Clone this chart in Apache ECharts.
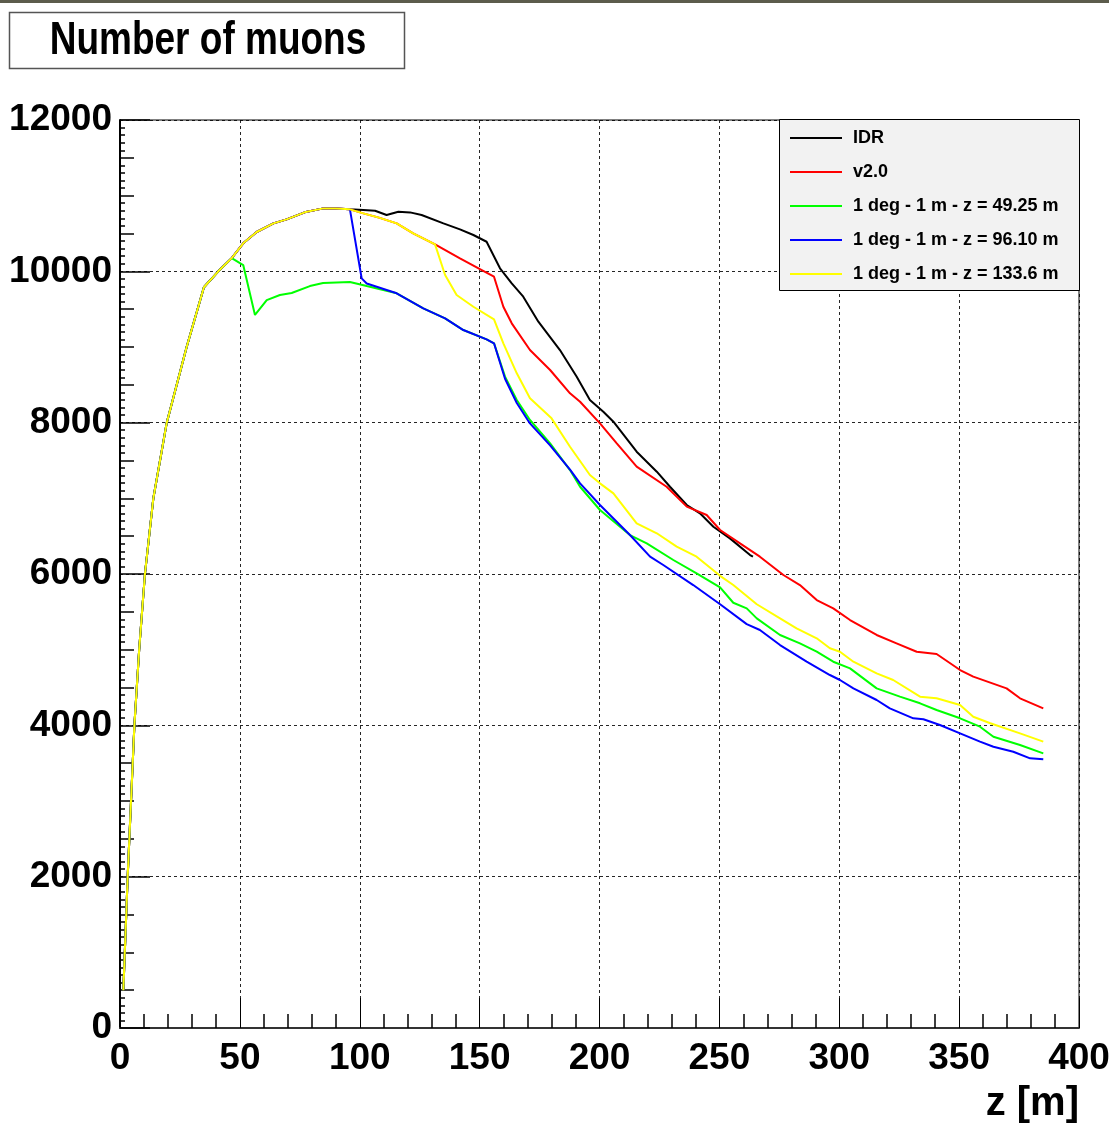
<!DOCTYPE html>
<html>
<head>
<meta charset="UTF-8">
<title>Number of muons</title>
<script src="https://cdn.jsdelivr.net/npm/echarts@6/dist/echarts.min.js"></script>
<style>
  html, body { margin: 0; padding: 0; background: #fff; }
  #main { width: 1109px; height: 1131px; }
</style>
</head>
<body>
<div id="main"></div>
<script>
var FONT = "'Liberation Sans', Arial, sans-serif";

// common rising part (all curves)
var commonZ = [1.4, 3.2, 6, 8, 10.4, 13.9, 19.5, 27.8, 35, 41, 46.6];
var commonN = [500, 2000, 4000, 5000, 6000, 7000, 8000, 9000, 9790, 10000, 10175];

// shared between IDR, v2.0, blue and yellow up to z ~ 96 m
var peakZ = [51.4, 57, 64, 69.5, 77, 84.8, 90, 95.9];
var peakN = [10370, 10520, 10634, 10687, 10780, 10832, 10830, 10819];

// IDR
var idrZ = [101.5, 106.4, 111.2, 116.1, 121, 125.8, 134.9, 141.8, 147.4, 152.9, 158.5, 163.4, 168.2, 174.5, 183.5, 190.5, 196, 201.6, 205.8, 215.5, 223.9, 229.4, 236.4, 241.9, 247.5, 254.4, 262.8, 264];
var idrN = [10810, 10801, 10744, 10788, 10779, 10744, 10634, 10555, 10480, 10391, 10040, 9842, 9665, 9334, 8960, 8607, 8300, 8145, 8013, 7616, 7352, 7153, 6912, 6802, 6625, 6471, 6251, 6230];

// v2.0 (yellow shares it up to z ~ 131 m)
var v2HeadZ = [101.5, 108, 115.4, 122.3, 131.4];
var v2HeadN = [10766, 10710, 10634, 10502, 10357];
var v2Z = [141.8, 150.9, 156, 159.9, 163.4, 171, 179.4, 187.7, 191.9, 200.2, 207.2, 215.5, 228, 236.4, 244.7, 250.3, 258.6, 266.9, 276.7, 283.6, 290.6, 297.5, 304.5, 315.6, 323.9, 332.3, 340.6, 350.4, 355.9, 369.8, 375.4, 385.1];
var v2N = [10172, 10017, 9929, 9532, 9313, 8960, 8696, 8388, 8277, 7991, 7727, 7418, 7153, 6890, 6780, 6581, 6405, 6229, 5987, 5854, 5656, 5546, 5392, 5194, 5084, 4973, 4943, 4731, 4643, 4489, 4357, 4225];

// 1 deg - 1 m - z = 49.25 m
var g49Z = [51.4, 56.3, 61.2, 66.7, 71.6, 79.2, 84.7, 95.9, 102.9, 115.4, 126.5, 135.6, 143.2, 152.9, 156, 160.6, 165.5, 171, 179.4, 187.7, 191.9, 200.2, 212.7, 219.7, 230.8, 240.5, 250.3, 255.8, 261.4, 265.6, 275.3, 283.6, 290.6, 297.5, 304.5, 315.6, 325.3, 333.7, 340.6, 350.4, 358.7, 364.3, 375.4, 385.1];
var g49N = [10083, 9423, 9620, 9687, 9713, 9805, 9845, 9860, 9805, 9710, 9511, 9379, 9224, 9101, 9049, 8608, 8300, 8035, 7727, 7374, 7153, 6846, 6515, 6405, 6185, 6009, 5822, 5620, 5546, 5414, 5194, 5084, 4973, 4841, 4753, 4489, 4379, 4291, 4202, 4093, 3982, 3850, 3740, 3630];

// 1 deg - 1 m - z = 96.10 m
var b96Z = [100.8, 102.9, 115.4, 126.5, 135.6, 143.2, 152.9, 156, 160.6, 165.5, 171, 179.4, 187.7, 191.9, 200.2, 212.7, 221.1, 226.6, 239.1, 250.3, 261.4, 266.9, 275.3, 286.4, 296.1, 300.3, 305.9, 315.6, 321.1, 330.9, 335.1, 342, 350.4, 358.7, 364.3, 372.6, 379.6, 385.1];
var b96N = [9907, 9840, 9710, 9511, 9379, 9224, 9101, 9049, 8580, 8260, 7990, 7700, 7380, 7198, 6912, 6515, 6229, 6119, 5854, 5600, 5337, 5260, 5061, 4841, 4665, 4599, 4489, 4335, 4225, 4093, 4080, 4004, 3894, 3784, 3717, 3651, 3564, 3551];

// 1 deg - 1 m - z = 133.6 m
var y133Z = [135.6, 140.4, 147.4, 156, 159.9, 165.5, 171, 180, 187.7, 196, 200.2, 205.8, 215.5, 223.9, 232.2, 240.5, 250.3, 255.8, 265.6, 275.3, 282.2, 290.6, 296.1, 300.3, 305.9, 315.6, 322.5, 333.7, 340.6, 350.4, 355.9, 363, 375.4, 385.1];
var y133N = [9951, 9687, 9532, 9366, 9049, 8652, 8322, 8057, 7682, 7308, 7198, 7066, 6670, 6538, 6361, 6229, 5976, 5854, 5600, 5414, 5282, 5150, 5018, 4973, 4841, 4687, 4599, 4379, 4357, 4269, 4114, 4027, 3894, 3784];

var legendNames = ['IDR', 'v2.0', '1 deg - 1 m - z = 49.25 m', '1 deg - 1 m - z = 96.10 m', '1 deg - 1 m - z = 133.6 m'];
var colors = ['#000000', '#ff0000', '#00ff00', '#0000ff', '#ffff00'];

function pairs() {
  var res = [];
  for (var a = 0; a < arguments.length; a += 2) {
    var zs = arguments[a], ns = arguments[a + 1];
    for (var i = 0; i < zs.length; i++) res.push([zs[i], ns[i]]);
  }
  return res;
}

var seriesData = [
  pairs(commonZ, commonN, peakZ, peakN, idrZ, idrN),
  pairs(commonZ, commonN, peakZ, peakN, v2HeadZ, v2HeadN, v2Z, v2N),
  pairs(commonZ, commonN, g49Z, g49N),
  pairs(commonZ, commonN, peakZ, peakN, b96Z, b96N),
  pairs(commonZ, commonN, peakZ, peakN, v2HeadZ, v2HeadN, y133Z, y133N)
];

var myChart = echarts.init(document.getElementById('main'));

var gridLine = { show: true, lineStyle: { color: '#000', width: 1, type: [3, 3], opacity: 0.85 } };
var labelStyle = { color: '#000', fontFamily: FONT, fontWeight: 'bold', fontSize: 37,
  formatter: function (v) { return String(v); } };

var option = {
  backgroundColor: '#fff',
  animation: false,
  color: colors,
  graphic: [
    { type: 'rect', shape: { x: 0, y: 0, width: 1109, height: 3 }, style: { fill: '#5c5c4c' } },
    { type: 'rect', shape: { x: 9.5, y: 12.5, width: 395, height: 56 }, style: { fill: '#fff', stroke: '#555', lineWidth: 1.5 } },
    { type: 'text', x: 208, y: 41, scaleY: 1.25, style: { text: 'Number of muons', fill: '#000', font: 'bold 37px ' + FONT, textAlign: 'center', textVerticalAlign: 'middle' } },
    { type: 'rect', z: 5, shape: { x: 779.5, y: 119.5, width: 300, height: 171 }, style: { fill: '#f2f2f2', stroke: '#000', lineWidth: 1 } }
  ],
  grid: { left: 120, top: 120, right: 30, bottom: 103, containLabel: false, outerBoundsMode: 'none',
    show: true, borderColor: '#000', borderWidth: 1 },
  legend: {
    data: legendNames,
    orient: 'vertical',
    left: 790,
    top: 129,
    padding: 0,
    icon: 'rect',
    itemWidth: 52,
    itemHeight: 2,
    itemGap: 16,
    z: 10,
    textStyle: { color: '#000', fontFamily: FONT, fontWeight: 'bold', fontSize: 18, lineHeight: 14, padding: [0, 0, 0, 6] }
  },
  xAxis: {
    type: 'value',
    min: 0, max: 400, interval: 50,
    name: 'z [m]',
    nameLocation: 'end',
    nameGap: 0,
    nameTextStyle: { color: '#000', fontFamily: FONT, fontWeight: 'bold', fontSize: 40, align: 'right', verticalAlign: 'top', padding: [56, 0, 0, 0] },
    axisLine: { show: true, onZero: false, lineStyle: { color: '#333', width: 2 } },
    axisTick: { show: true, inside: true, length: 30, lineStyle: { color: '#000', width: 1 } },
    minorTick: { show: true, splitNumber: 5, length: 14, lineStyle: { color: '#000', width: 1.5 } },
    axisLabel: Object.assign({ margin: 12 }, labelStyle),
    splitLine: gridLine
  },
  yAxis: [{
    type: 'value',
    min: 0, max: 12000, interval: 2000,
    axisLine: { show: true, lineStyle: { color: '#000', width: 2 } },
    axisTick: { show: true, inside: true, length: 30, lineStyle: { color: '#000', width: 1.5 } },
    minorTick: { show: true, splitNumber: 20, length: 5, lineStyle: { color: '#000', width: 1.5 } },
    axisLabel: Object.assign({ margin: 8 }, labelStyle),
    splitLine: gridLine
  }, {
    type: 'value',
    position: 'left',
    min: 0, max: 12000, interval: 500,
    axisLine: { show: false },
    axisTick: { show: true, inside: true, length: 14, lineStyle: { color: '#000', width: 1.5 } },
    axisLabel: { show: false },
    splitLine: { show: false }
  }],
  series: legendNames.map(function (name, i) {
    return {
      name: name,
      type: 'line',
      data: seriesData[i],
      yAxisIndex: 0,
      symbol: 'none',
      showSymbol: false,
      z: 2 + i,
      lineStyle: { color: colors[i], width: 2 },
      itemStyle: { color: colors[i] }
    };
  })
};

myChart.setOption(option);
</script>
</body>
</html>
